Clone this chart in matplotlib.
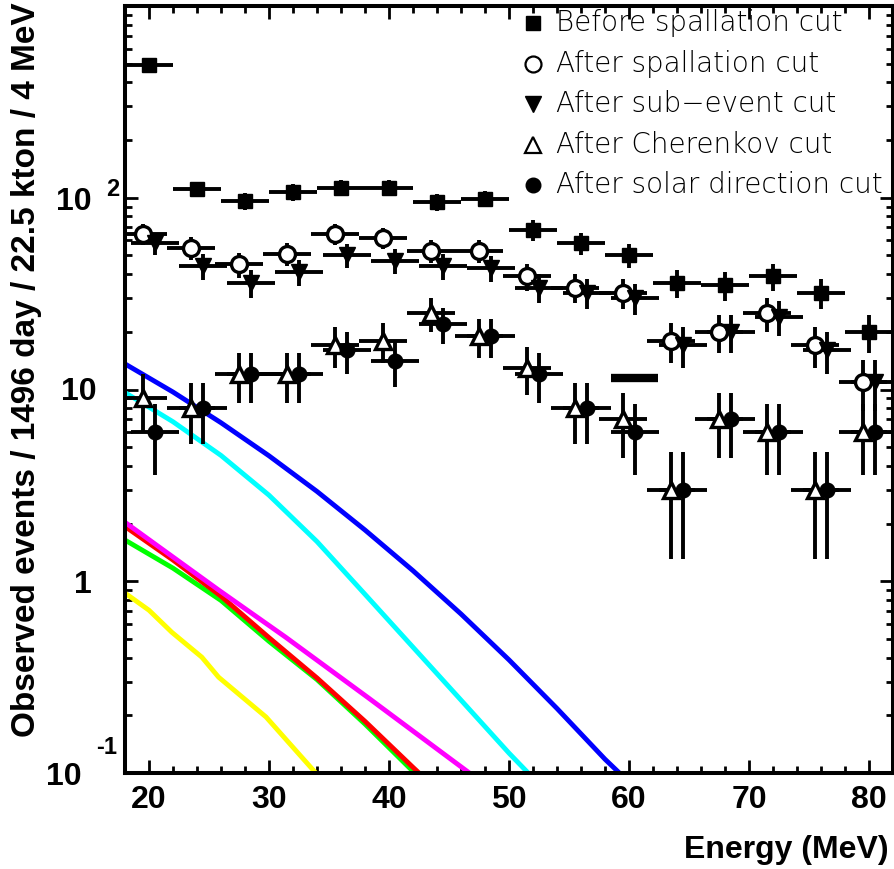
import numpy as np
import matplotlib
matplotlib.use('Agg')
import matplotlib.pyplot as plt
from matplotlib.ticker import MultipleLocator, LogLocator, NullFormatter

# bin centres (MeV), 4 MeV bins
energy = [20, 24, 28, 32, 36, 40, 44, 48, 52, 56, 60, 64, 68, 72, 76, 80]

before_spall = [490, 111, 96, 107, 113, 113, 95, 99, 68, 58, 50, 36, 35, 39, 32, 20]
before_spall_err = [22.1, 10.5, 9.8, 10.3, 10.6, 10.6, 9.7, 9.9, 8.2, 7.6, 7.1, 6.0, 5.9, 6.2, 5.7, 4.5]
after_spall = [65, 55, 45, 51, 65, 62, 53, 53, 39, 34, 32, 18, 20, 25, 17, 11]
after_spall_err = [8.1, 7.4, 6.7, 7.1, 8.1, 7.9, 7.3, 7.3, 6.2, 5.8, 5.7, 4.2, 4.5, 5.0, 4.1, 3.3]
after_sub = [58, 44, 36, 41, 50, 47, 44, 43, 34, 32, 30, 17, 20, 24, 16, 11]
after_sub_err = [7.6, 6.6, 6.0, 6.4, 7.1, 6.9, 6.6, 6.6, 5.8, 5.7, 5.5, 4.1, 4.5, 4.9, 4.0, 3.3]
after_cher = [9, 8, 12, 12, 17, 18, 25, 19, 13, 8, 7, 3, 7, 6, 3, 6]
after_cher_err = [3.0, 2.8, 3.5, 3.5, 4.1, 4.2, 5.0, 4.4, 3.6, 2.8, 2.6, 1.7, 2.6, 2.4, 1.7, 2.4]
after_solar = [6, 8, 12, 12, 16, 14, 22, 19, 12, 8, 6, 3, 7, 6, 3, 6]
after_solar_err = [2.4, 2.8, 3.5, 3.5, 4.0, 3.7, 4.7, 4.4, 3.5, 2.8, 2.4, 1.7, 2.6, 2.4, 1.7, 2.4]

# extra bar drawn near 60 MeV
bar_e = [58.5, 62.4]
bar_v = [11.5, 11.5]

# expected spectra
blue_e = [18, 22, 26, 30, 34, 38, 42, 46, 50, 54, 58, 59.2]
blue_v = [13.6, 9.70, 6.71, 4.51, 2.94, 1.85, 1.135, 0.675, 0.389, 0.217, 0.118, 0.1]
cyan_e = [18, 22, 26, 30, 34, 38, 42, 46, 50, 51.6]
cyan_v = [9.64, 6.79, 4.53, 2.81, 1.61, 0.855, 0.453, 0.240, 0.127, 0.1]
magenta_e = [18, 25.8, 31.4, 38.3, 46.7]
magenta_v = [2.03, 0.9, 0.51, 0.246, 0.1]
green_e = [18, 22, 26, 30, 34, 38, 42, 42.3]
green_v = [1.64, 1.17, 0.794, 0.486, 0.307, 0.18, 0.102, 0.1]
red_e = [18, 22, 26, 30, 34, 38, 42, 42.5]
red_v = [1.93, 1.29, 0.836, 0.508, 0.313, 0.186, 0.107, 0.1]
yellow_e = [17.9, 20, 21.9, 24.4, 25.8, 29.75, 33.9]
yellow_v = [0.877, 0.706, 0.542, 0.402, 0.316, 0.196, 0.1]

W, H = 895, 869
fig = plt.figure(figsize=(W / 100, H / 100), dpi=100)
ax = fig.add_axes([125 / W, 1 - 773 / H, 768 / W, 767 / H])
ax.set_yscale('log')
ax.set_xlim(18, 82)
ax.set_ylim(0.1, 1000)

bold = dict(family=['Liberation Sans', 'DejaVu Sans'], weight='bold', size=23)

for e, v, c in [(yellow_e, yellow_v, '#ffff00'), (green_e, green_v, '#00ff00'),
                (red_e, red_v, '#ff0000'), (magenta_e, magenta_v, '#ff00ff'),
                (cyan_e, cyan_v, '#00ffff'), (blue_e, blue_v, '#0000ff')]:
    ax.plot(e, v, color=c, lw=3.5, zorder=2, solid_joinstyle='round')

E = np.array(energy, dtype=float)
common = dict(xerr=2, color='k', ecolor='k', elinewidth=2.8, capsize=0, linestyle='none', zorder=3)
ax.errorbar(E, before_spall, yerr=before_spall_err, fmt='s', ms=10, mfc='k', mec='k', **common)
ax.errorbar(E - 0.5, after_spall, yerr=after_spall_err, fmt='o', ms=11.5, mfc='white', mec='k', mew=2.4, **common)
ax.errorbar(E + 0.5, after_sub, yerr=after_sub_err, fmt='v', ms=11, mfc='k', mec='k', **common)
ax.errorbar(E - 0.5, after_cher, yerr=after_cher_err, fmt='^', ms=12, mfc='white', mec='k', mew=2.4, **common)
ax.errorbar(E + 0.5, after_solar, yerr=after_solar_err, fmt='o', ms=10.5, mfc='k', mec='k', **common)
ax.plot(bar_e, bar_v, color='k', lw=6, solid_capstyle='butt', zorder=3)

# axes style (ROOT-like)
for s in ax.spines.values():
    s.set_linewidth(2.9)
ax.xaxis.set_major_locator(MultipleLocator(10))
ax.xaxis.set_minor_locator(MultipleLocator(2))
ax.yaxis.set_major_locator(LogLocator(base=10, numticks=10))
ax.yaxis.set_minor_locator(LogLocator(base=10, subs=np.arange(2, 10), numticks=20))
ax.yaxis.set_major_formatter(NullFormatter())
ax.yaxis.set_minor_formatter(NullFormatter())
ax.tick_params(which='both', direction='in', top=True, right=True, width=2)
ax.tick_params(which='major', length=9.5)
ax.tick_params(which='minor', length=5)
ax.tick_params(axis='x', which='major', pad=9)
ax.set_xticks([20, 30, 40, 50, 60, 70, 80])
ax.set_xticklabels(['20', '30', '40', '50', '60', '70', '80'], **bold)

# y tick labels (ROOT exponent style)
fig.text(97 / W, 1 - 392 / H, '10', ha='right', va='center', **bold)
fig.text(92 / W, 1 - 585 / H, '1', ha='right', va='center', **bold)
fig.text(92 / W, 1 - 202 / H, '10', ha='right', va='center', **bold)
fig.text(106 / W, 1 - 189 / H, '2', ha='left', va='center',
         family=['Liberation Sans', 'DejaVu Sans'], weight='bold', size=17)
fig.text(82 / W, 1 - 777 / H, '10', ha='right', va='center', **bold)
fig.text(96 / W, 1 - 748 / H, '-1', ha='left', va='center',
         family=['Liberation Sans', 'DejaVu Sans'], weight='bold', size=17)

fig.text(27 / W, 1 - 2 / H, 'Observed events / 1496 day / 22.5 kton / 4 MeV',
         rotation=90, ha='center', va='top',
         family=['Liberation Sans', 'DejaVu Sans'], weight='bold', size=24)
fig.text(889 / W, 1 - 850 / H, 'Energy (MeV)', ha='right', va='center', **bold)

# legend
leg_labels = ['Before spallation cut', 'After spallation cut', 'After sub\u2212event cut',
              'After Cherenkov cut', 'After solar direction cut']
leg_style = [dict(marker='s', ms=10, mfc='k', mec='k'),
             dict(marker='o', ms=11.5, mfc='white', mec='k', mew=1.6),
             dict(marker='v', ms=11, mfc='k', mec='k'),
             dict(marker='^', ms=12, mfc='white', mec='k', mew=1.6),
             dict(marker='o', ms=10.5, mfc='k', mec='k')]
rows = [23, 64, 104, 145, 185]
for lab, st, r in zip(leg_labels, leg_style, rows):
    ax.plot([(533 - 125) / 768], [(773 - r) / 767], transform=ax.transAxes,
            clip_on=False, linestyle='none', zorder=4, **st)
    ax.text((556 - 125) / 768, (773 - r) / 767, lab, transform=ax.transAxes,
            ha='left', va='center', family='DejaVu Sans', weight='light', size=20)

fig.savefig('out.png', dpi=100)
